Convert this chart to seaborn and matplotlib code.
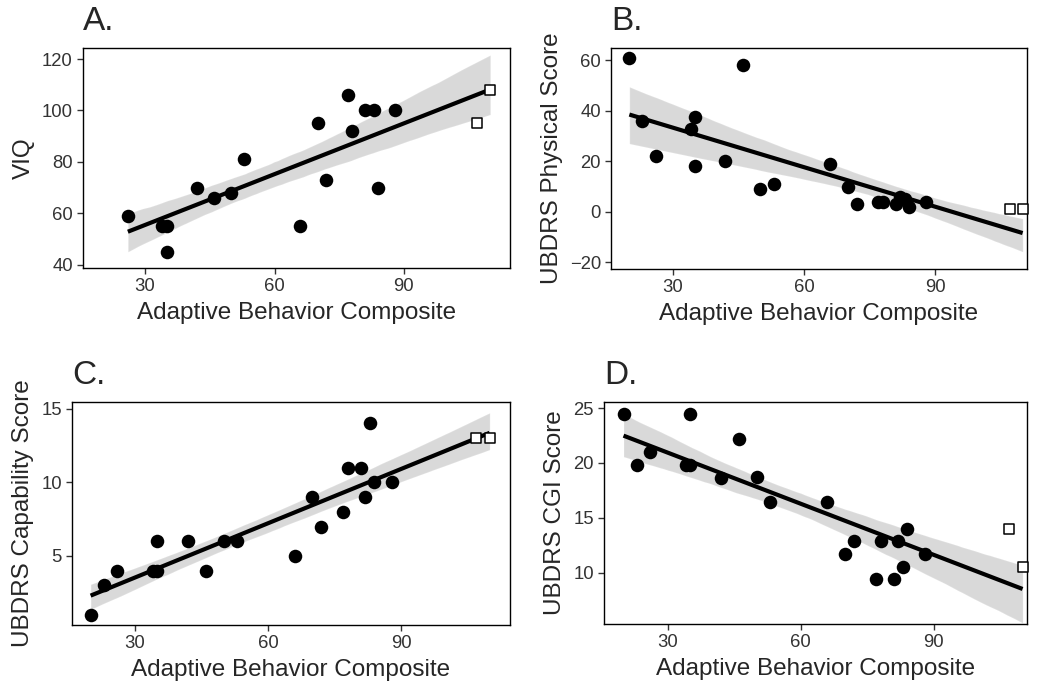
import numpy as np
import pandas as pd
import matplotlib
matplotlib.use("Agg")
import matplotlib.pyplot as plt
import seaborn as sns

# Adaptive Behavior Composite for the patient group (filled circles)
abc = [20, 23, 26, 34, 35, 35, 42, 46, 50, 53, 66, 70, 72, 77, 78, 81, 82, 83, 84, 88]
viq = [np.nan, np.nan, 59, 55, 55, 45, 70, 66, 68, 81, 55, 95, 73, 106, 92, 100, np.nan, 100, 70, 100]
physical = [61, 36, 22, 33, 37.5, 18, 20, 58, 9, 11, 19, 10, 3, 4, 4, 3, 6, 5, 2, 4]
capability = [1, 3, 4, 4, 6, 4, 6, 4, 6, 6, 5, 9, 7, 8, 11, 11, 9, 14, 10, 10]
cgi = [24.5, 19.8, 21, 19.8, 24.5, 19.8, 18.6, 22.2, 18.7, 16.4, 16.4, 11.7, 12.9, 9.4, 12.9, 9.4, 12.9, 10.5, 14, 11.7]

# second group (open squares)
abc_sq = [107, 110]
viq_sq = [95, 108]
physical_sq = [1, 1]
capability_sq = [13, 13]
cgi_sq = [14, 10.5]

sns.set_style("white")
plt.rcParams["font.family"] = ["Liberation Sans", "DejaVu Sans"]

fig = plt.figure(figsize=(10.5, 6.89), dpi=100)
W, H = 1050, 689

def box(l, r, t, b):
    return [l / W, 1 - b / H, (r - l) / W, (b - t) / H]

panels = [
    ("A.", "VIQ", viq, viq_sq, box(83, 510, 48, 268), (15.6, 114.6), (38.7, 124.3), [40, 60, 80, 100, 120]),
    ("B.", "UBDRS Physical Score", physical, physical_sq, box(611, 1027, 48, 269), (15.8, 111.0), (-22.6, 64.9), [-20, 0, 20, 40, 60]),
    ("C.", "UBDRS Capability Score", capability, capability_sq, box(72, 510, 402, 625), (15.8, 114.6), (0.31, 15.46), [5, 10, 15]),
    ("D.", "UBDRS CGI Score", cgi, cgi_sq, box(604, 1027, 402, 624), (15.6, 111.0), (5.33, 25.55), [10, 15, 20, 25]),
]

for title, ylab, yv, ysq, rect, xl, yl, yt in panels:
    ax = fig.add_axes(rect)
    pts = pd.DataFrame({"x": abc, "y": yv})
    sq = pd.DataFrame({"x": abc_sq, "y": ysq})
    both = pd.concat([pts, sq]).dropna()

    # fit over everyone, band is 95% CI
    sns.regplot(data=both, x="x", y="y", ax=ax, scatter=False, ci=95,
                color="black", line_kws={"lw": 3, "solid_capstyle": "butt"})
    sns.scatterplot(data=pts.dropna(), x="x", y="y", ax=ax, color="black",
                    s=95, edgecolor="black", linewidth=0, zorder=5)
    sns.scatterplot(data=sq, x="x", y="y", ax=ax, marker="s", s=55,
                    facecolor="white", edgecolor="black", linewidth=1.1,
                    zorder=5, clip_on=False)

    ax.set_xlim(*xl)
    ax.set_ylim(*yl)
    ax.set_xticks([30, 60, 90])
    ax.set_yticks(yt)
    ax.set_xlabel("Adaptive Behavior Composite", fontsize=17.5, labelpad=5)
    ax.set_ylabel(ylab, fontsize=17.5, labelpad=5)
    ax.set_title(title, loc="left", fontsize=24, pad=13)
    ax.tick_params(axis="both", direction="out", length=4.3, width=1,
                   bottom=True, left=True,
                   color="#333333", labelcolor="#333333", labelsize=13.3, pad=3)
    for s in ax.spines.values():
        s.set_color("black")
        s.set_linewidth(1)

fig.savefig("out.png", dpi=100)
